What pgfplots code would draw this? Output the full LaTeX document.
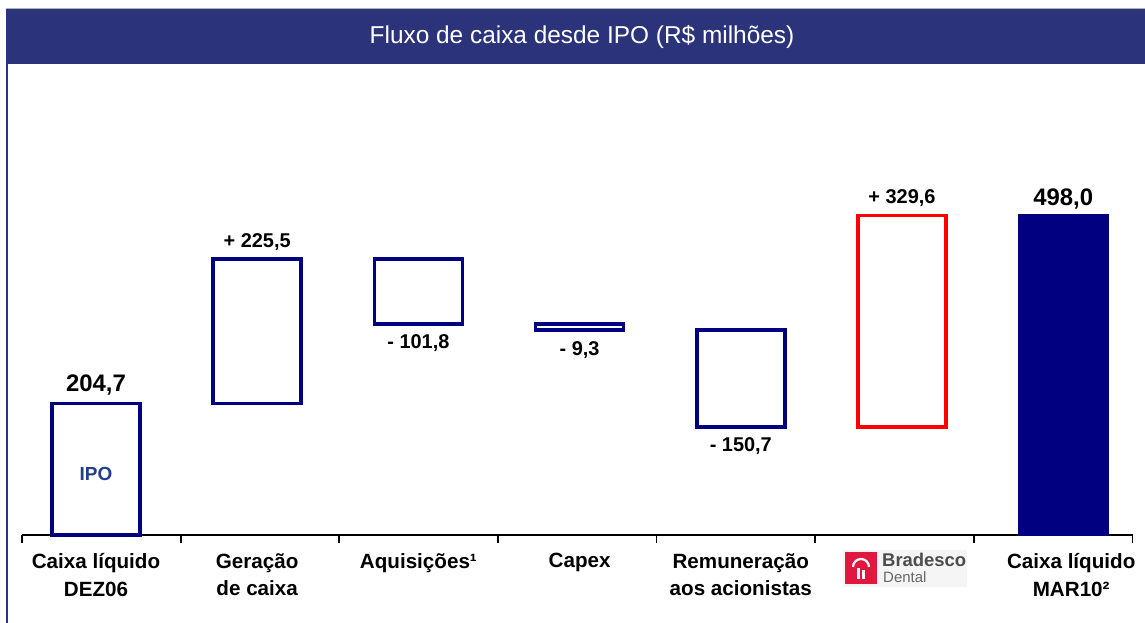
\documentclass[border=0pt]{standalone}
\usepackage{pgfplots}
\pgfplotsset{compat=1.18}
\usepackage{fontspec}
\setmainfont{Liberation Sans}
\definecolor{titlebar}{RGB}{43,52,122}
\definecolor{navybar}{RGB}{0,0,128}
\definecolor{ipoblue}{RGB}{31,62,140}
\definecolor{bradred}{RGB}{225,23,63}
\tikzset{vl/.style={font=\bfseries\fontsize{20}{24}\selectfont}, vb/.style={font=\bfseries\fontsize{24}{28}\selectfont}}
\begin{document}
\begin{tikzpicture}
\useasboundingbox (0bp,0bp) rectangle (1145bp,623bp);
\fill[titlebar] (6bp,559bp) rectangle (1145bp,614bp);
\draw[gray!60, line width=1bp] (6bp,614.5bp) -- (1145bp,614.5bp);
\draw[titlebar, line width=2bp] (7bp,559bp) -- (7bp,0bp);
\node[white, font=\fontsize{24.5}{28}\selectfont] at (582bp,586.5bp) {Fluxo de caixa desde IPO (R\$ milhões)};
\begin{axis}[
  at={(22bp,88bp)}, anchor=south west,
  scale only axis, width=1110.5bp, height=449.4bp,
  xmin=-0.459, xmax=6.43, ymin=0, ymax=700,
  clip=false,
  ybar stacked, bar width=88bp,
  hide y axis,
  axis x line*=bottom,
  x axis line style={line width=2.2bp, black},
  xtick={0,1,2,3,4,5,6},
  xticklabels={Caixa líquido\\DEZ06, Geração\\de caixa, Aquisições¹, Capex, Remuneração\\aos acionistas, {}, \hspace*{16bp}Caixa líquido\\\hspace*{16bp}MAR10²},
  major tick length=0pt,
  minor xtick={-0.459,0.525,1.509,2.493,3.477,4.461,5.445,6.43},
  minor tick length=8bp,
  tick align=outside,
  minor tick style={line width=1.8bp, black},
  xticklabel style={font=\bfseries\fontsize{20.7}{28}\selectfont, align=center, anchor=north, inner sep=0pt, yshift=-18bp},
]
\addplot[draw=none, fill=none] coordinates {(0,0) (1,204.7) (2,328.4) (3,319.1) (4,168.4) (5,168.4) (6,0)};
\addplot[draw=red, fill=white, line width=3.5bp] coordinates {(0,0) (1,0) (2,0) (3,0) (4,0) (5,329.6) (6,0)};
\addplot[draw=navybar, fill=white, line width=3.5bp] coordinates {(0,204.7) (1,225.5) (2,101.8) (3,9.3) (4,150.7) (5,0) (6,0)};
\addplot[draw=navybar, fill=navybar, line width=3bp] coordinates {(0,0) (1,0) (2,0) (3,0) (4,0) (5,0) (6,498)};
\node[vb, yshift=19bp] at (axis cs:0,204.7) {204,7};
\node[vl, yshift=17bp] at (axis cs:1,430.2) {+ 225,5};
\node[vl, yshift=-19bp] at (axis cs:2,328.4) {- 101,8};
\node[vl, yshift=-20bp] at (axis cs:3,319.1) {- 9,3};
\node[vl, yshift=-19bp] at (axis cs:4,168.4) {- 150,7};
\node[vl, yshift=17bp] at (axis cs:5,498) {+ 329,6};
\node[vb, yshift=16bp] at (axis cs:6,498) {498,0};
\end{axis}
\node[text=ipoblue, font=\bfseries\fontsize{19}{22}\selectfont] at (96bp,149bp) {IPO};
\fill[gray!8] (843bp,36bp) rectangle (967bp,73bp);
\fill[bradred] (845bp,39bp) rectangle (877bp,71bp);
\draw[white, line width=2.2bp] (853bp,56bp) arc (180:0:8bp);
\draw[white, line width=2.2bp] (858.5bp,44bp) -- (858.5bp,55bp);
\draw[white, line width=2.2bp] (863.5bp,44bp) -- (863.5bp,53bp);
\node[anchor=base west, inner sep=0pt, text=black!70, font=\bfseries\fontsize{18.5}{20}\selectfont] at (882bp,56bp) {Bradesco};
\node[anchor=base west, inner sep=0pt, text=black!60, font=\fontsize{15}{18}\selectfont] at (883bp,40bp) {Dental};
\end{tikzpicture}
\end{document}
